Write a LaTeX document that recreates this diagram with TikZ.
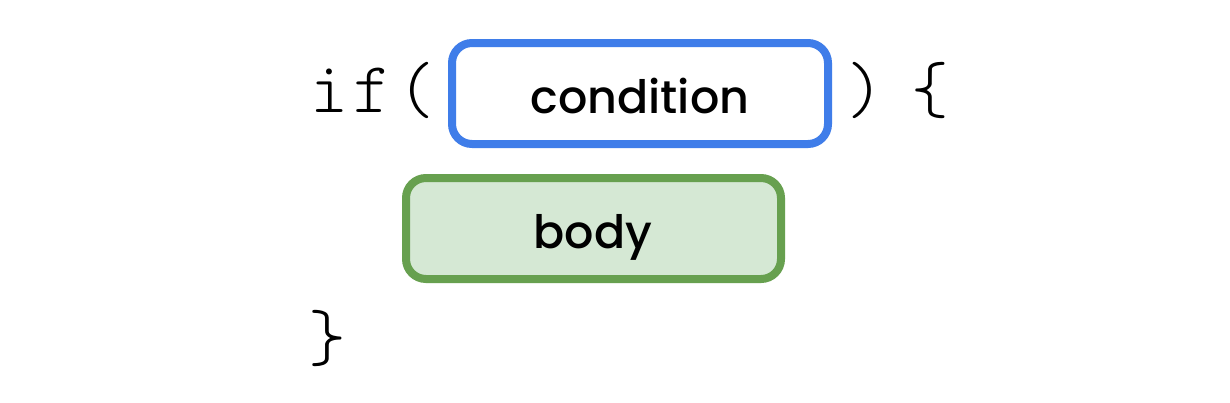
\documentclass[tikz,border=0pt]{standalone}
\usepackage{fontspec}
\setmainfont{Poppins}[BoldFont={Poppins Medium}]
\setmonofont{Latin Modern Mono Light}
\definecolor{condblue}{HTML}{3F7DE9}
\definecolor{bodygreen}{HTML}{67A04F}
\definecolor{bodyfill}{HTML}{D5E8D4}
\tikzset{
  codetext/.style={font=\ttfamily\fontsize{72}{72}\selectfont, inner sep=0pt, anchor=base},
  labeltext/.style={font=\bfseries\fontsize{46}{46}\selectfont, inner sep=0pt, anchor=base}
}
\begin{document}
\begin{tikzpicture}[x=1pt,y=-1pt]
\useasboundingbox (0,0) rectangle (1230,402);
\fill[white] (0,0) rectangle (1230,402);
\draw[condblue, line width=8pt, rounded corners=20pt] (452,43) rectangle (828,144);
\node[labeltext] (cond) at (640,113) {condition};
\draw[bodygreen, fill=bodyfill, line width=8pt, rounded corners=20pt] (406,178) rectangle (781,279);
\node[labeltext] (body) at (593,248) {body};
\node[codetext] (i) at (329,112) {i};
\node[codetext] (f) at (372,112) {f};
\node[codetext] (lp) at (416,112) {(};
\node[codetext] (rp) at (865,112) {)};
\node[codetext] (lb) at (930,112) {\{};
\node[codetext] (rb) at (327,360) {\}};
\end{tikzpicture}
\end{document}
